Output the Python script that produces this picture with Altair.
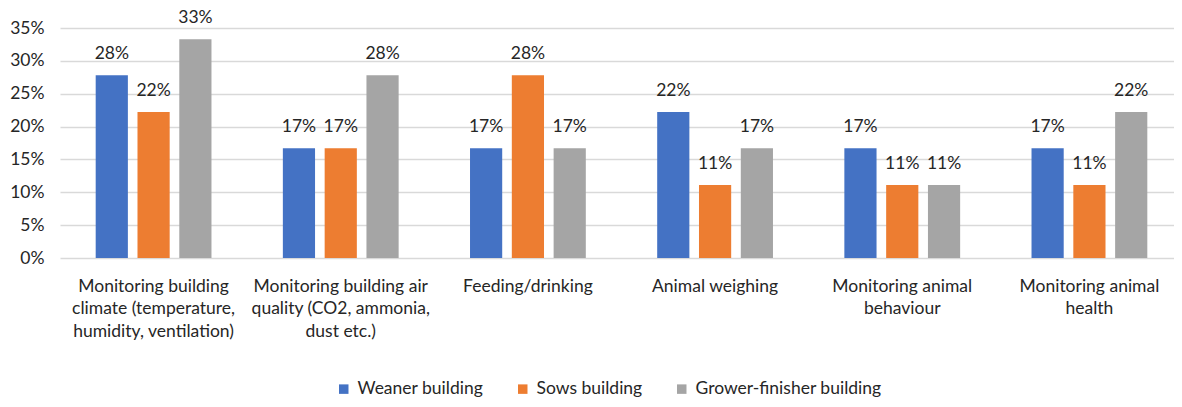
import altair as alt
import pandas as pd

categories = [
    "Monitoring building|climate (temperature,|humidity, ventilation)",
    "Monitoring building air|quality (CO2, ammonia,|dust etc.)",
    "Feeding/drinking",
    "Animal weighing",
    "Monitoring animal|behaviour",
    "Monitoring animal|health",
]
series = ["Weaner building", "Sows building", "Grower-finisher building"]
weaner = [0.278, 0.167, 0.167, 0.222, 0.167, 0.167]
sows = [0.222, 0.167, 0.278, 0.111, 0.111, 0.111]
grower = [0.333, 0.278, 0.167, 0.167, 0.111, 0.222]
colors = ["#4472C4", "#ED7D31", "#A5A5A5"]

rows = []
for s, vals in zip(series, [weaner, sows, grower]):
    for c, v in zip(categories, vals):
        rows.append({"category": c, "series": s, "value": v})
df = pd.DataFrame(rows)

FONT = "Lato"
TXT = "#262626"
FS = 17.5

x = alt.X(
    "category:N",
    sort=categories,
    scale=alt.Scale(range=[0, 1123], paddingInner=0.33, paddingOuter=0.165),
    axis=alt.Axis(
        title=None,
        labelAngle=0,
        labelExpr="split(datum.label, '|')",
        labelFontSize=FS,
        labelLineHeight=22.5,
        labelColor=TXT,
        labelFont=FONT,
        labelPadding=19,
        labelLimit=400,
        ticks=False,
        domain=False,
    ),
)
xo = alt.XOffset(
    "series:N", sort=series, scale=alt.Scale(paddingInner=0.23, paddingOuter=0.115)
)
y = alt.Y(
    "value:Q",
    scale=alt.Scale(domain=[0, 0.35]),
    axis=alt.Axis(
        title=None,
        format=".0%",
        values=[0, 0.05, 0.10, 0.15, 0.20, 0.25, 0.30, 0.35],
        domain=False,
        ticks=False,
        gridColor="#D9D9D9",
        gridWidth=1.5,
        labelFontSize=FS,
        labelColor=TXT,
        labelFont=FONT,
        labelPadding=16,
    ),
)
color = alt.Color(
    "series:N",
    sort=series,
    scale=alt.Scale(domain=series, range=colors),
    legend=alt.Legend(
        title=None,
        orient="none",
        direction="horizontal",
        legendX=275,
        legendY=352,
        symbolType="square",
        symbolSize=90,
        symbolStrokeWidth=0,
        labelFontSize=FS,
        labelFont=FONT,
        labelColor=TXT,
        labelLimit=400,
        columnPadding=30,
        labelOffset=5,
    ),
)

bars = alt.Chart(df).mark_bar().encode(x=x, xOffset=xo, y=y, color=color)
labels = alt.Chart(df).mark_text(
    dy=-16, baseline="alphabetic", fontSize=FS, font=FONT, color=TXT
).encode(x=x, xOffset=xo, y=y, text=alt.Text("value:Q", format=".0%"))

chart = (
    alt.layer(bars, labels)
    .properties(
        width=1114,
        height=230,
        autosize=alt.AutoSizeParams(type="none"),
        padding={"left": 52, "top": 20, "right": 0, "bottom": 141},
        background="white",
    )
    .configure_view(stroke=None)
)

chart.save("out.html", embed_options={"renderer": "svg", "actions": False})
